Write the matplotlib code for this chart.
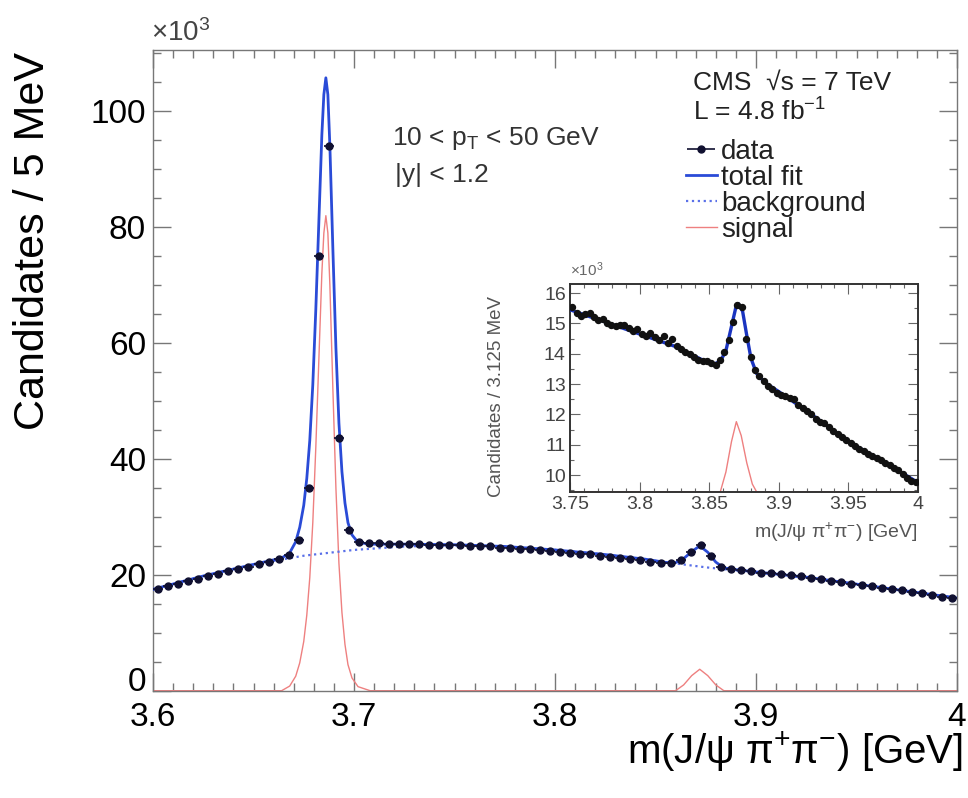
import numpy as np
import matplotlib
matplotlib.use("Agg")
import matplotlib.pyplot as plt
from matplotlib.ticker import MultipleLocator, FuncFormatter

plt.rcParams['font.family'] = ['Liberation Sans', 'DejaVu Sans']
plt.rcParams['mathtext.fontset'] = 'custom'
plt.rcParams['mathtext.rm'] = 'Liberation Sans'
plt.rcParams['mathtext.it'] = 'Liberation Sans:italic'
plt.rcParams['mathtext.bf'] = 'Liberation Sans:bold'

## DATA

# main plot, 5 MeV bins from 3.6 to 4.0 (values in 10^3)
main_lo = 3.6
main_bin = 0.005
main_counts = [
    17.6, 18.1, 18.5, 18.9, 19.3, 19.8, 20.1, 20.6, 21.0, 21.4,
    21.8, 22.2, 22.7, 23.5, 26.1, 35.0, 75.0, 94.0, 43.7, 27.8,
    25.6, 25.5, 25.5, 25.4, 25.4, 25.3, 25.3, 25.2, 25.2, 25.1,
    25.1, 25.0, 24.9, 24.9, 24.7, 24.6, 24.5, 24.5, 24.3, 24.1,
    24.0, 23.8, 23.6, 23.6, 23.3, 23.1, 22.9, 22.7, 22.5, 22.3,
    22.1, 22.0, 22.6, 24.0, 25.2, 23.2, 21.4, 21.0, 20.8, 20.6,
    20.4, 20.3, 20.1, 19.9, 19.8, 19.5, 19.3, 19.0, 18.8, 18.5,
    18.3, 18.0, 17.8, 17.5, 17.3, 17.0, 16.8, 16.5, 16.2, 16.0,
]

# total fit
fit_m = [3.600, 3.625, 3.650, 3.664, 3.668, 3.671, 3.673, 3.675, 3.6765,
         3.678, 3.6795, 3.681, 3.6825, 3.684, 3.685, 3.686, 3.687, 3.688,
         3.6895, 3.691, 3.6925, 3.694, 3.6955, 3.697, 3.699, 3.702, 3.708,
         3.725, 3.750, 3.775, 3.800, 3.825, 3.845, 3.856, 3.860, 3.864,
         3.868, 3.872, 3.876, 3.880, 3.884, 3.890, 3.900, 3.925, 3.950,
         3.975, 4.000]
fit_y = [17.5, 19.8, 21.8, 22.9, 23.8, 25.7, 28.2, 32.0, 36.6,
         43.2, 52.8, 65.8, 80.8, 95.9, 102.9, 105.8, 102.9, 94.0,
         76.1, 59.2, 46.2, 37.8, 32.4, 29.0, 26.9, 25.6, 25.3,
         25.3, 25.2, 24.9, 24.3, 23.5, 22.7, 22.1, 22.1, 22.8,
         24.0, 25.0, 23.9, 22.2, 21.2, 20.9, 20.5, 19.6, 18.4,
         17.2, 16.0]

# background
bkg_m = [3.600, 3.625, 3.650, 3.675, 3.700, 3.725, 3.750, 3.775, 3.800,
         3.825, 3.850, 3.875, 3.900, 3.925, 3.950, 3.975, 4.000]
bkg_y = [17.5, 19.8, 21.8, 23.3, 24.3, 24.9, 25.1, 24.9, 24.3,
         23.5, 22.4, 21.3, 20.4, 19.5, 18.4, 17.2, 16.0]

# signal
sig_m = [3.600, 3.664, 3.668, 3.671, 3.673, 3.675, 3.6765, 3.678, 3.6795,
         3.681, 3.6825, 3.684, 3.685, 3.686, 3.687, 3.688, 3.6895, 3.691,
         3.6925, 3.694, 3.6955, 3.697, 3.699, 3.702, 3.708, 3.860, 3.864,
         3.868, 3.872, 3.876, 3.880, 3.884, 4.000]
sig_y = [0.0, 0.0, 0.8, 2.5, 4.8, 8.5, 13.0, 19.5, 29.0,
         42.0, 57.0, 72.0, 79.0, 82.0, 79.0, 70.0, 52.0, 35.0,
         22.0, 13.5, 8.0, 4.5, 2.2, 0.7, 0.0, 0.0, 1.0,
         2.6, 3.7, 2.6, 1.0, 0.0, 0.0]

# inset, 3.125 MeV bins from 3.75 to 4.0
ins_lo = 3.75
ins_bin = 0.003125
ins_counts = [
    15.55, 15.35, 15.25, 15.30, 15.35, 15.20, 15.10, 15.15, 15.00, 14.95,
    14.90, 14.95, 14.95, 14.85, 14.75, 14.80, 14.65, 14.60, 14.70, 14.55,
    14.45, 14.60, 14.35, 14.50, 14.25, 14.15, 14.05, 14.00, 13.90, 13.80,
    13.75, 13.75, 13.70, 13.62, 13.80, 14.05, 14.45, 15.05, 15.60, 15.55,
    14.50, 13.90, 13.45, 13.25, 13.10, 12.95, 12.85, 12.70, 12.65, 12.60,
    12.55, 12.50, 12.30, 12.20, 12.10, 12.00, 11.85, 11.75, 11.70, 11.60,
    11.45, 11.35, 11.25, 11.15, 11.05, 10.95, 10.85, 10.78, 10.70, 10.62,
    10.55, 10.48, 10.40, 10.32, 10.22, 10.15, 10.05, 9.90, 9.80, 9.78,
]
ins_fit_m = [3.750, 3.775, 3.800, 3.825, 3.845, 3.853, 3.858, 3.862, 3.866,
             3.869, 3.871, 3.874, 3.877, 3.880, 3.884, 3.890, 3.900, 3.925,
             3.950, 3.975, 4.000]
ins_fit_y = [15.45, 15.05, 14.65, 14.25, 13.80, 13.65, 13.75, 14.10, 14.90,
             15.50, 15.65, 15.40, 14.60, 13.85, 13.35, 13.05, 12.75, 11.95,
             11.10, 10.45, 9.75]
ins_sig_m = [3.750, 3.858, 3.862, 3.866, 3.8695, 3.873, 3.877, 3.881, 3.884, 4.000]
ins_sig_y = [9.45, 9.45, 10.10, 11.10, 11.76, 11.30, 10.40, 9.70, 9.45, 9.45]

blue = '#2a4bd7'
red = '#ee8080'
frame_grey = '#777777'

fig = plt.figure(figsize=(9.68, 7.98), dpi=100)

# main axes
ax = fig.add_axes([153/968, 1 - 690.7/798, 804/968, 640.7/798])

main_x = main_lo + main_bin * (np.arange(len(main_counts)) + 0.5)
sig_line, = ax.plot(sig_m, sig_y, color=red, lw=1.0, zorder=2)
bkg_line, = ax.plot(bkg_m, bkg_y, color='#5a70e8', lw=1.6, ls=':', zorder=3)
fit_line, = ax.plot(fit_m, fit_y, color=blue, lw=2.0, zorder=4)
data_pts = ax.errorbar(main_x, main_counts, xerr=main_bin / 2, fmt='o',
                       color='#101030', ms=5, elinewidth=1.2, capsize=0,
                       zorder=5)

ax.set_xlim(3.6, 4.0)
ax.set_ylim(0, 110.6)
ax.xaxis.set_major_locator(MultipleLocator(0.1))
ax.xaxis.set_minor_locator(MultipleLocator(0.01))
ax.yaxis.set_major_locator(MultipleLocator(20))
ax.yaxis.set_minor_locator(MultipleLocator(5))
ax.set_xticks([3.6, 3.7, 3.8, 3.9, 4.0])
ax.set_xticklabels(['3.6', '3.7', '3.8', '3.9', '4'])
# "0" is drawn separately, a bit higher, so it clears "3.6"
ax.yaxis.set_major_formatter(FuncFormatter(lambda v, p: '' if v == 0 else f'{v:.0f}'))
ax.tick_params(which='both', direction='in', top=True, right=True,
               color=frame_grey, labelsize=24, width=1.0)
ax.tick_params(which='major', length=13, pad=5)
ax.tick_params(axis='x', which='major', pad=8)
ax.tick_params(which='minor', length=6)
for s in ax.spines.values():
    s.set_color(frame_grey)
    s.set_linewidth(1.0)
ax.text(-0.0085, 1.4, '0', transform=ax.get_yaxis_transform(),
        ha='right', va='center', fontsize=24)

ax.set_ylabel('Candidates / 5 MeV', fontsize=31, va='center')
ax.yaxis.set_label_coords(-0.149, 0.702)
ax.set_xlabel(r'm(J/ψ π$^{+}$π$^{-}$) [GeV]', fontsize=29, ha='right', va='center')
ax.xaxis.set_label_coords(1.0075, -0.096)

fig.text(151/968, 1 - 33/798, r'×10$^{3}$', fontsize=20, ha='left', va='center', color='#444444')

fig.text(392/968, 1 - 138/798, r'10 < p$_{\mathrm{T}}$ < 50 GeV', fontsize=19, ha='left', va='center', color='#333333')
fig.text(395/968, 1 - 175/798, '|y| < 1.2', fontsize=19, ha='left', va='center', color='#333333')

fig.text(693/968, 1 - 83/798, 'CMS  √s = 7 TeV', fontsize=19, ha='left', va='center', color='#222222')
fig.text(693/968, 1 - 112/798, r'L = 4.8 fb$^{-1}$', fontsize=19, ha='left', va='center', color='#222222')

leg = ax.legend([data_pts, fit_line, bkg_line, sig_line],
                ['data', 'total fit', 'background', 'signal'],
                loc='upper left', bbox_to_anchor=(686/968, 1 - 139/798),
                bbox_transform=fig.transFigure, frameon=False, fontsize=20,
                handlelength=1.1, handletextpad=0.15, labelspacing=0.0,
                borderpad=0, borderaxespad=0)
for t in leg.get_texts():
    t.set_color('#222222')

# inset
axi = fig.add_axes([570/968, 1 - 492/798, 348/968, 208/798])
ins_x = ins_lo + ins_bin * (np.arange(len(ins_counts)) + 0.5)
axi.plot(ins_sig_m, ins_sig_y, color=red, lw=1.0, zorder=2)
axi.plot(ins_fit_m, ins_fit_y, color='#1a34c0', lw=2.4, zorder=3)
axi.plot(ins_x, ins_counts, 'o', color='#111111', ms=4.3, zorder=4)
axi.set_xlim(3.75, 4.0)
axi.set_ylim(9.44, 16.3)
axi.set_xticks([3.75, 3.8, 3.85, 3.9, 3.95, 4.0])
axi.set_xticklabels(['3.75', '3.8', '3.85', '3.9', '3.95', '4'])
axi.xaxis.set_minor_locator(MultipleLocator(0.01))
axi.yaxis.set_major_locator(MultipleLocator(1))
axi.yaxis.set_minor_locator(MultipleLocator(0.5))
axi.tick_params(which='both', direction='in', top=True, right=True,
                color='#666666', labelsize=14, labelcolor='#444444', width=0.8)
axi.tick_params(which='major', length=7, pad=3)
axi.tick_params(which='minor', length=3)
for s in axi.spines.values():
    s.set_color('#333333')
    s.set_linewidth(1.4)
axi.set_ylabel('Candidates / 3.125 MeV', fontsize=13.5, va='center', color='#555555')
axi.yaxis.set_label_coords(-0.21, 0.46)
axi.set_xlabel(r'm(J/ψ π$^{+}$π$^{-}$) [GeV]', fontsize=14, ha='right', va='center', color='#555555')
axi.xaxis.set_label_coords(1.0, -0.192)
fig.text(570/968, 1 - 270/798, r'×10$^{3}$', fontsize=11, ha='left', va='center', color='#666666')

fig.savefig('out.png', dpi=100)
